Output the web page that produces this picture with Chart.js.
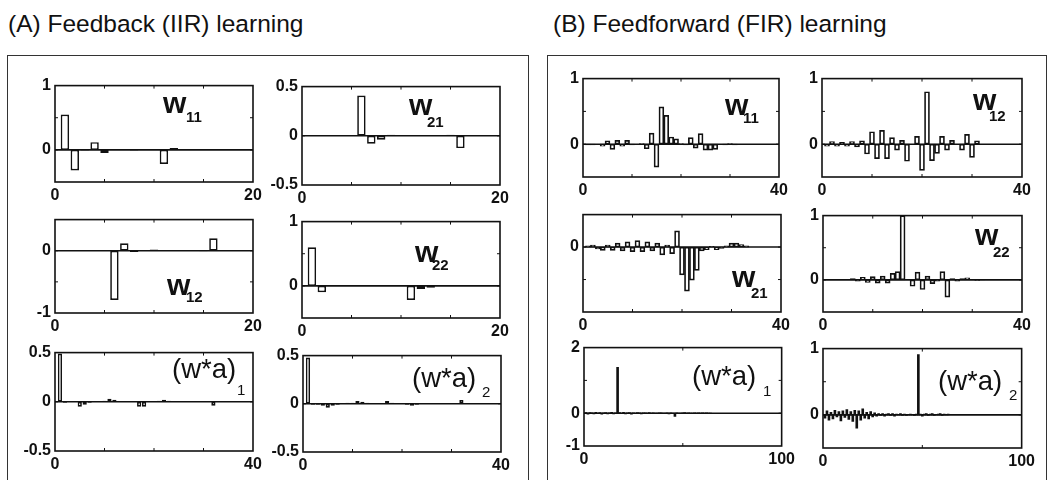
<!DOCTYPE html>
<html>
<head>
<meta charset="utf-8">
<script src="https://cdn.jsdelivr.net/npm/chart.js@4.4.1/dist/chart.umd.min.js"></script>
<style>
body { margin: 0; background: #fff; width: 1047px; height: 480px; overflow: hidden; position: relative;
       font-family: "Liberation Sans", Arial, Helvetica, sans-serif; color: #111; }
.frame { position: absolute; border: 1.5px solid #333; }
.txt { position: absolute; line-height: 1; white-space: nowrap; }
canvas { position: absolute; }
</style>
</head>
<body>
<div class="frame" style="left:7px;top:55px;width:520px;height:440px"></div>
<div class="frame" style="left:547px;top:55px;width:498px;height:440px"></div>
<script>
// ---- data (bar k is at x = k + 1) ----
// (A) feedback / IIR weights, 20 taps
const iirW11 = [0.55, -0.32, -0.01, 0.12, -0.05, 0, 0.01, -0.01, 0, 0, -0.22, 0.03, 0, 0, 0, 0, 0, 0, 0];
const iirW21 = [0, 0, 0, 0, 0, 0.41, -0.08, -0.04, 0.01, 0, 0, 0, 0, 0, 0.01, -0.125, 0, 0, 0];
const iirW12 = [0, 0, 0, 0, 0, -0.79, 0.12, -0.02, 0.01, 0.02, 0, 0, 0, 0, -0.01, 0.2, 0, 0, 0];
const iirW22 = [0.6, -0.1, 0, 0, 0, 0, 0, 0, 0, 0.01, -0.22, -0.05, -0.03, 0.01, 0, 0, 0, 0, 0];
// (A) effective filters, 40 taps
const iirWa1 = [0.49, -0.01, 0, 0, -0.05, -0.03, -0.01, 0, 0, 0.01, 0.03, 0.02, 0, 0, 0, 0, -0.05, -0.05, 0, 0,
                0.01, 0.02, 0.01, 0, 0, 0, 0, 0, 0, 0, 0, -0.04, 0, 0, 0, 0, 0, 0, 0];
const iirWa2 = [0.48, -0.01, -0.01, -0.02, -0.04, -0.02, -0.01, 0, 0.01, 0.01, 0.03, 0.02, 0.01, 0, 0, 0, 0.03, 0.01, 0, 0,
                -0.01, -0.02, -0.01, 0, 0, 0, 0, 0, 0, 0, 0, 0.04, 0, 0, 0, 0, 0, 0, 0];
// (B) feedforward / FIR weights, 40 taps
const firW11 = [-0.01, -0.01, 0, -0.03, 0.05, -0.08, 0.06, -0.03, 0.06, -0.01, 0, 0.01, -0.07, 0.17, -0.35, 0.57, 0.44, 0.11, 0.08, 0.01,
                -0.01, 0.1, -0.06, 0.16, -0.09, -0.09, -0.08, 0, -0.01, 0.01, -0.01, 0, 0, 0, 0, 0, 0, 0, 0];
const firW12 = [-0.03, 0.04, -0.03, 0.03, -0.03, 0.04, -0.04, 0.05, -0.15, 0.19, -0.22, 0.21, -0.22, 0.1, -0.09, 0.06, -0.26, 0, 0.12, -0.4,
                0.8, -0.25, -0.14, 0.12, -0.09, 0.06, 0, -0.09, 0.15, -0.2, 0.05, 0, 0, 0, 0, 0, 0, 0, 0];
const firW21 = [0.02, 0.03, -0.03, -0.05, 0.03, -0.05, 0.06, -0.06, 0.08, -0.07, 0.1, -0.07, 0.08, -0.06, 0.06, -0.12, 0.03, -0.1, 0.25, -0.43,
                -0.68, -0.51, -0.36, -0.06, -0.04, 0.01, -0.04, -0.02, 0.02, 0.06, 0.06, 0.04, 0.02, 0, 0, 0, 0, 0, 0];
const firW22 = [0, 0, 0, 0, 0, 0.02, -0.02, 0.04, -0.04, 0.05, -0.05, 0.06, -0.05, 0.1, 0.13, 1.0, 0, -0.1, 0.12, -0.15,
                0.06, -0.06, -0.02, 0.13, -0.27, 0.02, -0.02, 0.02, 0.03, 0.01, -0.01, 0.01, 0, 0, 0, 0, 0, 0, 0];
// (B) effective filters, 100 taps (only the non-flat start)
const firWa1 = [0.02, -0.03, 0.02, 0.01, -0.02, 0.03, -0.01, 0.02, -0.03, 0.01, 0.02, -0.02, 0.01, 0.03, -0.02, 0.01, 1.4, 0.02, -0.01, 0.03,
                -0.02, 0.01, 0.02, -0.03, 0.01, -0.01, 0.02, 0.01, -0.02, 0.01, 0.01, -0.01, 0.02, -0.01, 0.01, 0, -0.01, 0.01, 0.01, -0.01,
                0, 0.01, -0.02, 0.01, 0, -0.1, 0.01, 0, -0.01, 0.01, 0.02, -0.01, 0.01, 0, -0.01, 0.01, 0, 0.01, -0.01, 0.01,
                0, 0.01, -0.01, 0];
const firWa2 = [-0.05, 0.06, -0.08, 0.04, -0.06, 0.07, -0.03, 0.05, -0.09, 0.06, -0.04, 0.08, -0.07, 0.05, -0.1, 0.07, -0.2, 0.06, -0.08, 0.09,
                -0.05, 0.04, -0.06, 0.05, -0.03, 0.03, -0.02, 0.02, -0.01, 0.02, -0.02, 0.01, 0.02, -0.01, 0.02, -0.02, 0.01, 0, 0.02, -0.01,
                0.01, -0.01, 0, 0.01, 0, -0.01, 0.01, 0.91, 0.01, -0.02, 0.01, 0.02, -0.01, 0.01, 0.02, -0.01, 0, 0.01, 0.02, -0.01,
                0.01, 0, 0.01];

// y tick labels shown on each panel
const ticksHalfOne = [1, 0];
const ticksHalf = [0.5, 0, -0.5];
const ticksZeroMinusOne = [0, -1];
const ticksZero = [0];
const ticksTwo = [2, 0, -1];

const AX_W = 45, AX_H = 26, PAD_T = 10, PAD_R = 16;
const tickFont = { family: '"Liberation Sans", Arial, sans-serif', size: 16, weight: 'bold' };

// draws the box, the zero line and the small inside ticks
const framePlugin = {
    id: 'frame',
    afterDatasetsDraw(chart, args, opts) {
        const { ctx, chartArea: a, scales: { x, y } } = chart;
        ctx.save();
        ctx.strokeStyle = '#111';
        ctx.lineWidth = 1.6;
        const y0 = y.getPixelForValue(0);
        ctx.beginPath();
        ctx.moveTo(a.left, y0);
        ctx.lineTo(a.right, y0);
        ctx.stroke();
        ctx.strokeRect(a.left, a.top, a.right - a.left, a.bottom - a.top);
        ctx.lineWidth = 1;
        ctx.beginPath();
        for (let v = opts.xStep; v < x.max; v += opts.xStep) {
            const px = x.getPixelForValue(v);
            ctx.moveTo(px, a.top); ctx.lineTo(px, a.top + 3);
            ctx.moveTo(px, a.bottom); ctx.lineTo(px, a.bottom - 3);
        }
        for (let v = y.min + opts.yStep; v < y.max; v += opts.yStep) {
            const py = y.getPixelForValue(v);
            ctx.moveTo(a.left, py); ctx.lineTo(a.left + 3, py);
            ctx.moveTo(a.right, py); ctx.lineTo(a.right - 3, py);
        }
        ctx.stroke();
        ctx.restore();
    }
};

// chart area boxes are [left, top, right, bottom]
const panels = [
    { values: iirW11, box: [55, 82, 253, 182], yMin: -0.5, yMax: 1, yTicks: ticksHalfOne, xMax: 20, yStep: 0.5, lbl: ['w', '11', 163, 113, 186, 122] },
    { values: iirW21, box: [302, 83, 500, 185], yMin: -0.5, yMax: 0.5, yTicks: ticksHalf, xMax: 20, yStep: 0.5, lbl: ['w', '21', 409, 115, 427, 127] },
    { values: iirW12, box: [55, 216, 253, 313], yMin: -1, yMax: 0.5, yTicks: ticksZeroMinusOne, xMax: 20, yStep: 0.5, lbl: ['w', '12', 167, 295, 186, 302] },
    { values: iirW22, box: [302, 218, 500, 318], yMin: -0.5, yMax: 1, yTicks: ticksHalfOne, xMax: 20, yStep: 0.5, lbl: ['w', '22', 415, 262, 432, 270] },
    { values: iirWa1, box: [55, 349, 253, 451], yMin: -0.5, yMax: 0.5, yTicks: ticksHalf, xMax: 40, yStep: 0.5, lbl: ['(w*a)', '1', 172, 378, 237, 395] },
    { values: iirWa2, box: [303, 352, 501, 452], yMin: -0.5, yMax: 0.5, yTicks: ticksHalf, xMax: 40, yStep: 0.5, lbl: ['(w*a)', '2', 412, 387, 482, 397] },
    { values: firW11, box: [583, 75, 779, 177], yMin: -0.5, yMax: 1, yTicks: ticksHalfOne, xMax: 40, yStep: 0.5, fir: true, lbl: ['w', '11', 725, 115, 743, 123] },
    { values: firW12, box: [822, 75, 1022, 177], yMin: -0.5, yMax: 1, yTicks: ticksHalfOne, xMax: 40, yStep: 0.5, fir: true, lbl: ['w', '12', 973, 110, 989, 121] },
    { values: firW21, box: [583, 211, 781, 312], yMin: -1, yMax: 0.5, yTicks: ticksZero, xMax: 40, yStep: 0.5, fir: true, lbl: ['w', '21', 732, 287, 751, 298] },
    { values: firW22, box: [823, 212, 1022, 312], yMin: -0.5, yMax: 1, yTicks: ticksHalfOne, xMax: 40, yStep: 0.5, fir: true, lbl: ['w', '22', 975, 245, 993, 257] },
    { values: firWa1, box: [584, 344, 783, 446], yMin: -1, yMax: 2, yTicks: ticksTwo, xMax: 100, yStep: 1, fir: true, solid: true, lbl: ['(w*a)', '1', 692, 385, 763, 396] },
    { values: firWa2, box: [823, 345, 1023, 448], yMin: -0.5, yMax: 1, yTicks: ticksHalfOne, xMax: 100, yStep: 0.5, fir: true, solid: true, lbl: ['(w*a)', '2', 938, 390, 1009, 400] }
];

// text placed by its baseline
function addText(text, x, baseline, size, weight) {
    const d = document.createElement('div');
    d.className = 'txt';
    d.textContent = text;
    d.style.fontSize = size + 'px';
    d.style.fontWeight = weight;
    d.style.left = x + 'px';
    d.style.top = (baseline - 0.8465 * size) + 'px';
    document.body.appendChild(d);
}

addText('(A) Feedback (IIR) learning', 8, 33, 24.5, 'normal');
addText('(B) Feedforward (FIR) learning', 553, 33, 24.5, 'normal');

panels.forEach(p => {
    const [l, t, r, b] = p.box;
    const canvas = document.createElement('canvas');
    canvas.width = (r - l) + AX_W + PAD_R;
    canvas.height = (b - t) + PAD_T + AX_H;
    canvas.style.left = (l - AX_W) + 'px';
    canvas.style.top = (t - PAD_T) + 'px';
    document.body.appendChild(canvas);

    new Chart(canvas, {
        type: 'bar',
        data: {
            datasets: [{
                data: p.values.map((v, i) => ({ x: i + 1, y: v })),
                backgroundColor: p.solid ? '#111' : '#fff',
                borderColor: '#111',
                borderWidth: p.solid ? 0 : 1.7,
                borderSkipped: false,
                barPercentage: p.fir ? 1 : 0.85,
                categoryPercentage: 1
            }]
        },
        options: {
            responsive: false,
            animation: false,
            layout: { padding: { top: PAD_T, right: PAD_R, left: 0, bottom: 0 } },
            plugins: {
                legend: { display: false },
                tooltip: { enabled: false },
                frame: { xStep: p.xMax === 20 ? 5 : (p.xMax === 40 ? 10 : 50), yStep: p.yStep }
            },
            scales: {
                x: {
                    type: 'linear', min: 0, max: p.xMax, offset: false,
                    grid: { display: false, drawTicks: false, tickLength: 0 }, border: { display: false },
                    afterBuildTicks: s => { s.ticks = [0, p.xMax].map(v => ({ value: v })); },
                    afterFit: s => { s.height = AX_H; },
                    ticks: { font: tickFont, color: '#111', padding: 4, maxRotation: 0, autoSkip: false, callback: v => String(v) }
                },
                y: {
                    min: p.yMin, max: p.yMax,
                    grid: { display: false, drawTicks: false, tickLength: 0 }, border: { display: false },
                    afterBuildTicks: s => { s.ticks = p.yTicks.map(v => ({ value: v })); },
                    afterFit: s => { s.width = AX_W; },
                    ticks: { font: tickFont, color: '#111', padding: 4, autoSkip: false, callback: v => String(v) }
                }
            }
        },
        plugins: [framePlugin]
    });

    const [main, sub, mx, my, sx, sy] = p.lbl;
    const isW = main === 'w';
    addText(main, mx, my, isW ? 30 : 27.5, isW ? 'bold' : 'normal');
    addText(sub, sx, sy, 15, isW ? 'bold' : 'normal');
});
</script>
</body>
</html>
